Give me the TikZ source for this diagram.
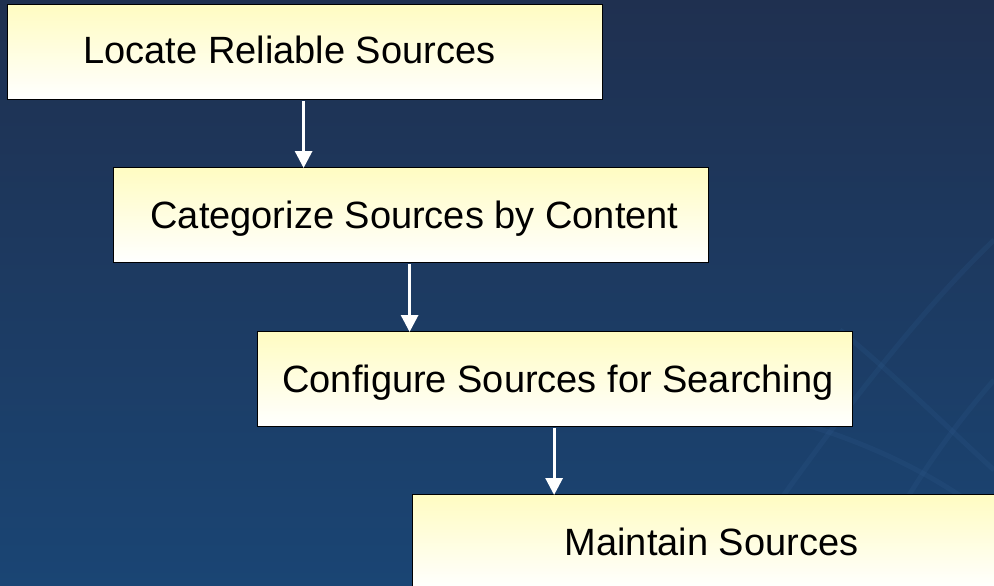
\documentclass[tikz,border=0pt]{standalone}
\usepackage{fontspec}
\setmainfont{Liberation Sans}
\usetikzlibrary{arrows.meta}
\definecolor{bgtop}{HTML}{1F3050}
\definecolor{bgbot}{HTML}{1A4574}
\definecolor{boxtop}{HTML}{FFFCC2}
\definecolor{deco}{HTML}{2F5C8E}
\tikzset{
  stepbox/.style={draw=black, line width=1.2pt, rectangle, anchor=north west,
    minimum width=595pt, minimum height=95pt, inner sep=0pt,
    top color=boxtop, bottom color=white},
  steptext/.style={anchor=base, inner sep=0pt, font=\fontsize{38}{44}\selectfont, text=black},
  flow/.style={draw=white, line width=3pt, -{Triangle[width=17pt,length=17pt]}}
}
\begin{document}
\begin{tikzpicture}[x=1pt,y=-1pt]
\useasboundingbox (0,0) rectangle (994,586);
\clip (0,0) rectangle (994,586);
\shade[top color=bgtop, bottom color=bgbot] (0,0) rectangle (994,586);
% faint decorative lines
\begin{scope}[draw=deco, line width=5pt, opacity=0.2]
  \draw (720,586) .. controls (800,470) and (900,330) .. (994,240);
  \draw (860,586) .. controls (900,500) and (950,430) .. (994,380);
  \draw (840,330) .. controls (900,380) and (950,430) .. (994,470);
  \draw (790,420) .. controls (860,440) and (930,470) .. (994,520);
\end{scope}
\node[stepbox] (b1) at (7,4) {};
\node[stepbox] (b2) at (113,167) {};
\node[stepbox] (b3) at (257,331) {};
\node[stepbox] (b4) at (412,494) {};
\node[steptext] (t1) at (289.5,64) {Locate Reliable Sources};
\node[steptext] (t2) at (414.5,228.5) {Categorize Sources by Content};
\node[steptext] (t3) at (558,392) {Configure Sources for Searching};
\node[steptext] (t4) at (711.5,555) {Maintain Sources};
\draw[flow] ([xshift=-1.5pt,yshift=-1pt]b1.south) -- ([xshift=-1.5pt,yshift=-1pt]b1.south |- b2.north);
\draw[flow] ([xshift=-1.5pt,yshift=-1pt]b2.south) -- ([xshift=-1.5pt,yshift=-1pt]b2.south |- b3.north);
\draw[flow] ([xshift=-1pt,yshift=-1pt]b3.south) -- ([xshift=-1pt,yshift=-1pt]b3.south |- b4.north);
\end{tikzpicture}
\end{document}
